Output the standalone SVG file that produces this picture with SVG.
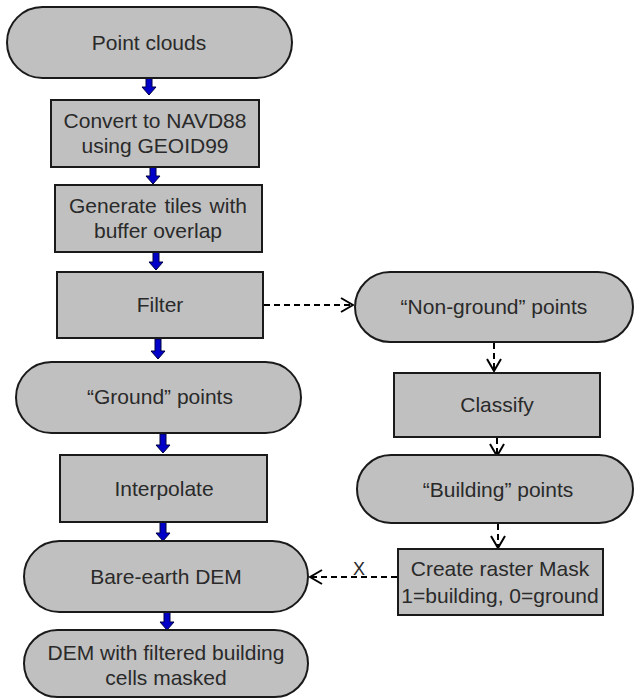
<svg xmlns="http://www.w3.org/2000/svg" width="635" height="698" viewBox="0 0 635 698">
<style>
.n{fill:#c0c0c0;stroke:#1a1a1a;stroke-width:2}
.t{font-family:"Liberation Sans",Arial,sans-serif;font-size:21px;fill:#2a2a2a;text-anchor:middle}
.b{fill:#0000c8;stroke:#000040;stroke-width:1}
.d{fill:none;stroke:#000;stroke-width:2;stroke-dasharray:6,4}
</style>
<defs>
<marker id="oa" viewBox="0 0 14 16" refX="13" refY="8" markerWidth="14" markerHeight="16" markerUnits="userSpaceOnUse" orient="auto">
<polyline points="1,1 13,8 1,15" fill="none" stroke="#000" stroke-width="2"/>
</marker>
</defs>
<rect width="635" height="698" fill="#fff"/>
<g id="connectors">
<path class="b" d="M146,78h6v9h4l-7,8l-7,-8h4z"/>
<path class="b" d="M150,167h6v9h4l-7,8l-7,-8h4z"/>
<path class="b" d="M153,252h6v10h4l-7,8l-7,-8h4z"/>
<path class="b" d="M155,339h6v12h4l-7,8l-7,-8h4z"/>
<path class="b" d="M160,434h6v11h4l-7,8l-7,-8h4z"/>
<path class="b" d="M160,522h6v11h4l-7,8l-7,-8h4z"/>
<path class="b" d="M164,612h6v10h4l-7,8l-7,-8h4z"/>
<path class="d" d="M264,305H353" marker-end="url(#oa)"/>
<path class="d" d="M494,343V371" marker-end="url(#oa)"/>
<path class="d" d="M497,438V456" marker-end="url(#oa)"/>
<path class="d" d="M498,524V548" marker-end="url(#oa)"/>
<path class="d" d="M397,577H310" marker-end="url(#oa)"/>
<text x="359" y="575" style="font-family:'Liberation Sans',Arial,sans-serif;font-size:18px;fill:#2a2a2a;text-anchor:middle">X</text>
</g>
<g id="point-clouds"><rect class="n" x="7" y="7" width="285" height="71" rx="35.5"/><text class="t" x="149" y="50">Point clouds</text></g>
<g id="convert"><rect class="n" x="51" y="100" width="208" height="67"/><text class="t" x="155" y="128">Convert to NAVD88</text><text class="t" x="155" y="153">using GEOID99</text></g>
<g id="generate"><rect class="n" x="55" y="185" width="207" height="67"/><text class="t" x="158" y="213" word-spacing="2">Generate tiles with</text><text class="t" x="158" y="238">buffer overlap</text></g>
<g id="filter"><rect class="n" x="57" y="272" width="206" height="66"/><text class="t" x="160" y="312">Filter</text></g>
<g id="ground"><rect class="n" x="16" y="362" width="285" height="71" rx="35.5"/><text class="t" x="160" y="404">“Ground” points</text></g>
<g id="interpolate"><rect class="n" x="60" y="455" width="207" height="67"/><text class="t" x="164" y="496">Interpolate</text></g>
<g id="bare-earth"><rect class="n" x="24" y="541" width="284" height="71" rx="35.5"/><text class="t" x="166" y="584">Bare-earth DEM</text></g>
<g id="dem-masked"><rect class="n" x="24" y="630" width="284" height="67" rx="33.5"/><text class="t" x="166" y="660">DEM with filtered building</text><text class="t" x="166" y="685">cells masked</text></g>
<g id="non-ground"><rect class="n" x="355" y="272" width="278" height="70" rx="35"/><text class="t" x="494" y="314">“Non-ground” points</text></g>
<g id="classify"><rect class="n" x="394" y="373" width="206" height="64"/><text class="t" x="497" y="412">Classify</text></g>
<g id="building"><rect class="n" x="357" y="455" width="276" height="68" rx="34"/><text class="t" x="498" y="497">“Building” points</text></g>
<g id="raster-mask"><rect class="n" x="398" y="549" width="205" height="66"/><text class="t" x="500" y="576">Create raster Mask</text><text class="t" x="500" y="603">1=building, 0=ground</text></g>
</svg>
